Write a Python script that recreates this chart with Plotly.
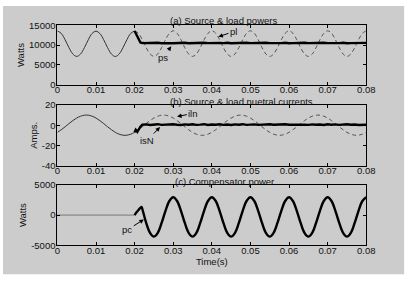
import plotly.graph_objects as go
from plotly.subplots import make_subplots

# ---------------- data ----------------
t = [0.000, 0.001, 0.002, 0.003, 0.004, 0.005, 0.006, 0.007, 0.008, 0.009,
     0.010, 0.011, 0.012, 0.013, 0.014, 0.015, 0.016, 0.017, 0.018, 0.019,
     0.020, 0.021, 0.022, 0.023, 0.024, 0.025, 0.026, 0.027, 0.028, 0.029,
     0.030, 0.031, 0.032, 0.033, 0.034, 0.035, 0.036, 0.037, 0.038, 0.039,
     0.040, 0.041, 0.042, 0.043, 0.044, 0.045, 0.046, 0.047, 0.048, 0.049,
     0.050, 0.051, 0.052, 0.053, 0.054, 0.055, 0.056, 0.057, 0.058, 0.059,
     0.060, 0.061, 0.062, 0.063, 0.064, 0.065, 0.066, 0.067, 0.068, 0.069,
     0.070, 0.071, 0.072, 0.073, 0.074, 0.075, 0.076, 0.077, 0.078, 0.079,
     0.080]

# (a) load power pl (W)
pl = [13550, 12940, 11340, 9360, 7760, 7150, 7760, 9360, 11340, 12940,
      13500, 12900, 11330, 9350, 7750, 7130, 7760, 9370, 11350, 12950,
      13550, 12950, 11350, 9360, 7770, 7160, 7770, 9380, 11360, 12960,
      13600, 12980, 11360, 9350, 7760, 7150, 7760, 9360, 11350, 12960,
      13600, 12980, 11360, 9360, 7760, 7150, 7760, 9360, 11350, 12960,
      13600, 12980, 11360, 9360, 7760, 7150, 7760, 9360, 11350, 12960,
      13600, 12980, 11360, 9360, 7760, 7150, 7760, 9360, 11350, 12960,
      13600, 12980, 11360, 9360, 7760, 7150, 7760, 9360, 11350, 12960,
      13600]

# time base after compensator switch-on
t_on = [0.023, 0.024, 0.025, 0.026, 0.027, 0.028, 0.029, 0.030,
        0.031, 0.032, 0.033, 0.034, 0.035, 0.036, 0.037, 0.038, 0.039, 0.040,
        0.041, 0.042, 0.043, 0.044, 0.045, 0.046, 0.047, 0.048, 0.049, 0.050,
        0.051, 0.052, 0.053, 0.054, 0.055, 0.056, 0.057, 0.058, 0.059, 0.060,
        0.061, 0.062, 0.063, 0.064, 0.065, 0.066, 0.067, 0.068, 0.069, 0.070,
        0.071, 0.072, 0.073, 0.074, 0.075, 0.076, 0.077, 0.078, 0.079, 0.080]

# (a) source power ps (W)
ps_t = [0.020, 0.0205, 0.021, 0.0215, 0.022] + t_on
ps = [13550, 12500, 11300, 10650, 10500,
      10550, 10450, 10500, 10600, 10450, 10550, 10500, 10450,
      10550, 10500, 10600, 10450, 10500, 10550, 10450, 10600, 10500, 10550,
      10450, 10550, 10500, 10600, 10450, 10500, 10550, 10450, 10600, 10500,
      10550, 10450, 10500, 10600, 10500, 10450, 10550, 10500, 10600, 10450,
      10500, 10550, 10450, 10600, 10500, 10550, 10450, 10500, 10600, 10500,
      10450, 10550, 10500, 10600, 10450, 10500, 10550, 10450, 10500, 10550]

# (b) load neutral current iln (A)
iln = [-7.1, -4.5, -1.6, 1.6, 4.5, 7.1, 8.9, 9.9, 9.9, 8.9,
       7.1, 4.5, 1.6, -1.6, -4.5, -7.1, -8.9, -9.9, -9.9, -8.9,
       -7.1, -4.5, -1.6, 1.6, 4.5, 7.1, 8.9, 9.9, 9.9, 8.9,
       7.1, 4.5, 1.6, -1.6, -4.5, -7.1, -8.9, -9.9, -9.9, -8.9,
       -7.1, -4.5, -1.6, 1.6, 4.5, 7.1, 8.9, 9.9, 9.9, 8.9,
       7.1, 4.5, 1.6, -1.6, -4.5, -7.1, -8.9, -9.9, -9.9, -8.9,
       -7.1, -4.5, -1.6, 1.6, 4.5, 7.1, 8.9, 9.9, 9.9, 8.9,
       7.1, 4.5, 1.6, -1.6, -4.5, -7.1, -8.9, -9.9, -9.9, -8.9,
       -7.1]

# (b) source neutral current isN (A)
isn_t = [0.020, 0.0203, 0.0207, 0.021, 0.0215, 0.022] + t_on
isn = [-7.1, -4.5, -6.5, -4.0, -1.5, 0.5,
       0.8, 0.2, 0.6, 1.0, 0.3, 0.7, 0.4, 0.9,
       0.5, 0.2, 0.8, 0.4, 0.9, 0.3, 0.6, 1.0, 0.2, 0.7,
       0.4, 0.9, 0.3, 0.7, 0.2, 0.8, 0.5, 1.0, 0.3, 0.6,
       0.8, 0.3, 0.6, 0.2, 0.9, 0.5, 0.7, 0.3, 1.0, 0.4,
       0.6, 0.2, 0.9, 0.5, 0.3, 0.8, 0.4, 0.7, 0.2, 0.9,
       0.5, 0.8, 0.3, 0.6, 1.0, 0.4, 0.7, 0.2, 0.6, 0.5]

# (c) compensator power pc (W)
pc_off_t = [0.000, 0.020]
pc_off = [0, 0]
pc_t = [0.020, 0.0205, 0.021, 0.0215, 0.0218, 0.022] + t_on
pc = [0, 450, 850, 1200, 1350, 1000,
      -1300, -2930, -3550, -2930, -1300, 700, 2330, 2950,
      2330, 700, -1300, -2930, -3550, -2930, -1300, 700, 2330, 2950,
      2330, 700, -1300, -2930, -3550, -2930, -1300, 700, 2330, 2950,
      2330, 700, -1300, -2930, -3550, -2930, -1300, 700, 2330, 2950,
      2330, 700, -1300, -2930, -3550, -2930, -1300, 700, 2330, 2950,
      2330, 700, -1300, -2930, -3550, -2930, -1300, 700, 2330, 2950]

x_ticks = [0, 0.01, 0.02, 0.03, 0.04, 0.05, 0.06, 0.07, 0.08]
x_ticktext = ["0", "0.01", "0.02", "0.03", "0.04", "0.05", "0.06", "0.07", "0.08"]
ya_ticks = [0, 5000, 10000, 15000]
ya_ticktext = ["0", "5000", "10000", "15000"]
yb_ticks = [-40, -20, 0, 20]
yb_ticktext = ["-40", "-20", "0", "20"]
yc_ticks = [-5000, 0, 5000]
yc_ticktext = ["-5000", "0", "5000"]

# ---------------- figure ----------------
W, H = 418, 284
FONT = "Liberation Sans, Arial, sans-serif"
FS = 9.5

fig = make_subplots(rows=3, cols=1)

pre = 21  # samples up to t = 0.02
dash = "4px,3px"

# panel a
fig.add_trace(go.Scatter(x=t[pre - 1:], y=pl[pre - 1:], mode="lines",
                         line=dict(color="#555555", width=1, dash=dash, shape="spline")), 1, 1)
fig.add_trace(go.Scatter(x=t[:pre], y=pl[:pre], mode="lines",
                         line=dict(color="#333333", width=1, shape="spline")), 1, 1)
fig.add_trace(go.Scatter(x=ps_t, y=ps, mode="lines",
                         line=dict(color="#000000", width=2.4)), 1, 1)

# panel b
fig.add_trace(go.Scatter(x=t[pre - 1:], y=iln[pre - 1:], mode="lines",
                         line=dict(color="#555555", width=1, dash=dash, shape="spline")), 2, 1)
fig.add_trace(go.Scatter(x=t[:pre], y=iln[:pre], mode="lines",
                         line=dict(color="#333333", width=1, shape="spline")), 2, 1)
fig.add_trace(go.Scatter(x=isn_t, y=isn, mode="lines",
                         line=dict(color="#000000", width=2.4)), 2, 1)

# panel c
fig.add_trace(go.Scatter(x=pc_off_t, y=pc_off, mode="lines",
                         line=dict(color="#777777", width=1)), 3, 1)
fig.add_trace(go.Scatter(x=pc_t, y=pc, mode="lines",
                         line=dict(color="#000000", width=2.4, shape="spline")), 3, 1)


def px_x(p):
    return p / W


def px_y(p):
    return 1 - p / H


domains = [(20, 82), (103, 166), (186, 249)]
yranges = [[0, 15000], [-40, 20], [-5000, 5000]]
yticks = [ya_ticks, yb_ticks, yc_ticks]
ytext = [ya_ticktext, yb_ticktext, yc_ticktext]
ytitles = ["Watts", "Amps.", "Watts"]

for i in range(3):
    sfx = "" if i == 0 else str(i + 1)
    top, bot = domains[i]
    axstyle = dict(showline=True, linecolor="black", linewidth=1, mirror="ticks",
                   ticks="inside", ticklen=3, tickcolor="black", showgrid=False,
                   zeroline=False, tickfont=dict(family=FONT, size=FS, color="#111111"))
    fig.layout["xaxis" + sfx].update(domain=[px_x(56), px_x(374)], range=[0, 0.08],
                                     tickvals=x_ticks, ticktext=x_ticktext,
                                     ticklabelstandoff=-4, **axstyle)
    fig.layout["yaxis" + sfx].update(domain=[px_y(bot), px_y(top)], range=yranges[i],
                                     tickvals=yticks[i], ticktext=ytext[i],
                                     ticklabelstandoff=-1,
                                     title=dict(text=ytitles[i], standoff=2,
                                                font=dict(family=FONT, size=FS, color="#111111")),
                                     **axstyle)

fig.layout.xaxis3.title = dict(text="Time(s)", standoff=2,
                               font=dict(family=FONT, size=FS, color="#111111"))

# panel titles
titles = [("(a) Source & load powers", 170, 15.5),
          ("(b) Source & load nuetral currents", 170, 99.5),
          ("(c) Compensator power", 175, 183)]
for txt, xx, yy in titles:
    fig.add_annotation(x=px_x(xx), y=px_y(yy), xref="paper", yref="paper",
                       text=txt, showarrow=False, xanchor="left", yanchor="middle",
                       font=dict(family=FONT, size=FS, color="#111111"))

# curve labels with arrows
labels = [
    ("ps", "x", "y", 0.0295, 9700, 0.0274, 6944),
    ("pl", "x", "y", 0.0417, 12097, 0.0456, 13379),
    ("iln", "x2", "y2", 0.0310, 8.6, 0.0352, 11.7),
    ("isN", "x2", "y2", 0.0266, -1.8, 0.0232, -15.2),
    ("pc", "x3", "y3", 0.0224, -714, 0.0181, -2460),
]
for txt, xr, yr, hx, hy, tx, ty in labels:
    fig.add_annotation(x=hx, y=hy, xref=xr, yref=yr, ax=tx, ay=ty, axref=xr, ayref=yr,
                       text=txt, showarrow=True, arrowhead=2, arrowsize=0.9,
                       arrowwidth=1, arrowcolor="black", standoff=0,
                       font=dict(family=FONT, size=FS, color="#111111"))

# grey window background
fig.add_shape(type="rect", xref="paper", yref="paper", x0=0, x1=px_x(413),
              y0=px_y(279), y1=1, fillcolor="#cccccc", line=dict(width=0), layer="below")

fig.update_layout(width=W, height=H, margin=dict(l=0, r=0, t=0, b=0),
                  paper_bgcolor="white", plot_bgcolor="white", showlegend=False,
                  font=dict(family=FONT, size=FS, color="#111111"))

fig.write_html("out.html")
